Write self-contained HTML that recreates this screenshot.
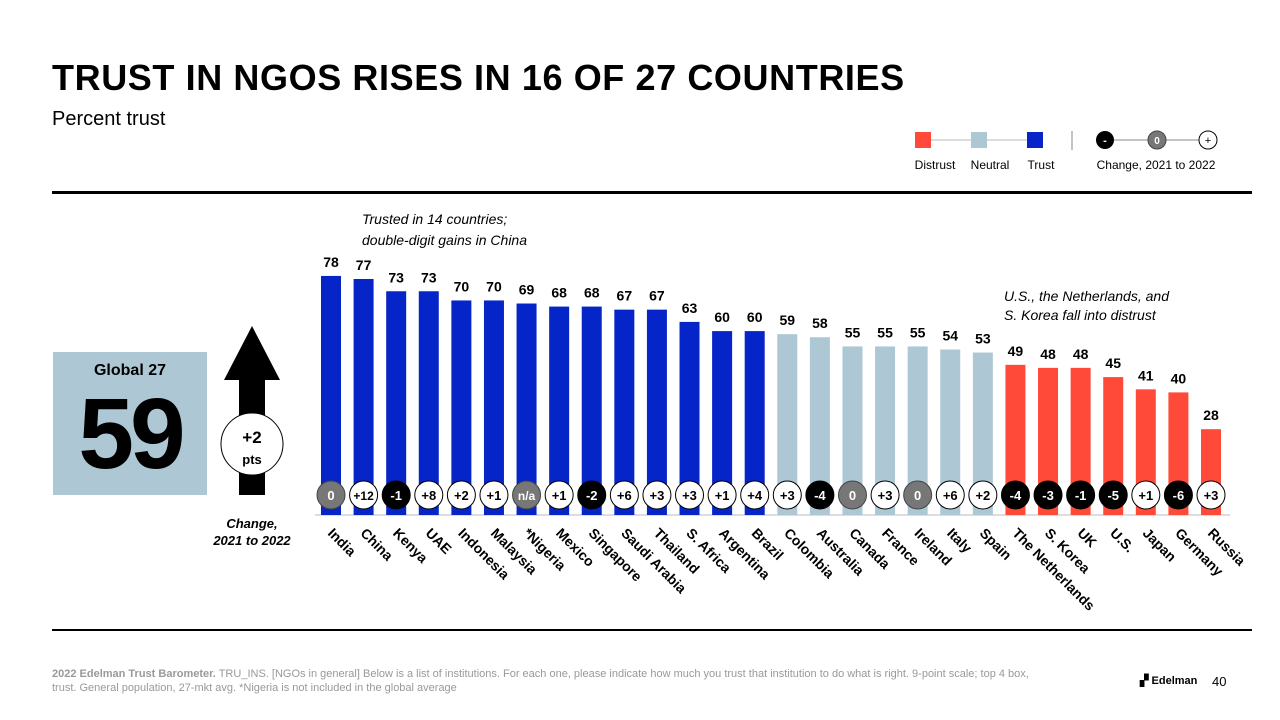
<!DOCTYPE html>
<html><head><meta charset="utf-8"><style>
body{margin:0;width:1280px;height:720px;background:#fff;font-family:"Liberation Sans",Arial,sans-serif;overflow:hidden;position:relative}
.abs{position:absolute}
</style></head><body>
<div class="abs" style="left:52px;top:57px;font-size:36px;font-weight:bold;color:#000;letter-spacing:0.6px">TRUST IN NGOS RISES IN 16 OF 27 COUNTRIES</div>
<div class="abs" style="left:52px;top:108px;font-size:20px">Percent trust</div>
<div class="abs" style="left:52px;top:191px;width:1200px;height:3px;background:#000"></div>
<div class="abs" style="left:52px;top:629px;width:1200px;height:2px;background:#000"></div>
<div class="abs" style="left:52px;top:667px;font-size:11px;color:#999;line-height:14px;width:1000px"><b>2022 Edelman Trust Barometer.</b> TRU_INS. [NGOs in general] Below is a list of institutions. For each one, please indicate how much you trust that institution to do what is right. 9-point scale; top 4 box, trust. General population, 27-mkt avg. *Nigeria is not included in the global average</div>
<div class="abs" style="left:1140px;top:674px;font-size:11px;font-weight:bold">▞ Edelman</div>
<div class="abs" style="left:1212px;top:674px;font-size:13px">40</div>
<div class="abs" style="left:53px;top:352px;width:154px;height:143px;background:#adc8d4"></div>
<div class="abs" style="left:53px;top:362px;width:154px;text-align:center;font-size:16px;font-weight:bold">Global 27</div>
<div class="abs" style="left:53px;top:377px;width:154px;text-align:center;font-size:100px;font-weight:bold;letter-spacing:-4px">59</div>
<svg class="abs" style="left:0;top:0" width="1280" height="720" id="chart">
<g>
<polygon points="252,326 280,380 265,380 265,495 239,495 239,380 224,380" fill="#000"/>
<circle cx="252" cy="444" r="31" fill="#fff" stroke="#000" stroke-width="1"/>
<text x="252" y="443" text-anchor="middle" font-size="17" font-weight="bold">+2</text>
<text x="252" y="464" text-anchor="middle" font-size="13" font-weight="bold">pts</text>
</g>
<text x="252" y="528" text-anchor="middle" font-size="13" font-weight="bold" font-style="italic">Change,</text>
<text x="252" y="545" text-anchor="middle" font-size="13" font-weight="bold" font-style="italic">2021 to 2022</text>
<text x="362" y="224" font-size="14" font-style="italic">Trusted in 14 countries;</text>
<text x="362" y="245" font-size="14" font-style="italic">double-digit gains in China</text>
<text x="1004" y="301" font-size="14" font-style="italic">U.S., the Netherlands, and</text>
<text x="1004" y="320" font-size="14" font-style="italic">S. Korea fall into distrust</text>
<g>
<line x1="922" y1="140" x2="1036" y2="140" stroke="#bbb"/>
<rect x="915" y="132" width="16" height="16" fill="#ff4a3a"/>
<rect x="971" y="132" width="16" height="16" fill="#adc8d4"/>
<rect x="1027" y="132" width="16" height="16" fill="#0625c8"/>
<text x="935" y="169" font-size="12" text-anchor="middle">Distrust</text>
<text x="990" y="169" font-size="12" text-anchor="middle">Neutral</text>
<text x="1041" y="169" font-size="12" text-anchor="middle">Trust</text>
<line x1="1072" y1="131" x2="1072" y2="150" stroke="#888"/>
<line x1="1105" y1="140" x2="1208" y2="140" stroke="#888"/>
<circle cx="1105" cy="140" r="9" fill="#000"/><text x="1105" y="144" fill="#fff" font-size="11" font-weight="bold" text-anchor="middle">-</text>
<circle cx="1157" cy="140" r="9" fill="#777" stroke="#444"/><text x="1157" y="144" fill="#fff" font-size="10" font-weight="bold" text-anchor="middle">0</text>
<circle cx="1208" cy="140" r="9" fill="#fff" stroke="#000"/><text x="1208" y="144" font-size="11" text-anchor="middle">+</text>
<text x="1156" y="169" font-size="12" text-anchor="middle">Change, 2021 to 2022</text>
</g>
<line x1="315" y1="515" x2="1230" y2="515" stroke="#bbb"/>
<g id="bars"></g>
</svg>
<script>
const countries=["India","China","Kenya","UAE","Indonesia","Malaysia","*Nigeria","Mexico","Singapore","Saudi Arabia","Thailand","S. Africa","Argentina","Brazil","Colombia","Australia","Canada","France","Ireland","Italy","Spain","The Netherlands","S. Korea","UK","U.S.","Japan","Germany","Russia"];
const trustValues=[78,77,73,73,70,70,69,68,68,67,67,63,60,60,59,58,55,55,55,54,53,49,48,48,45,41,40,28];
const changes=["0","+12","-1","+8","+2","+1","n/a","+1","-2","+6","+3","+3","+1","+4","+3","-4","0","+3","0","+6","+2","-4","-3","-1","-5","+1","-6","+3"];
const x0=331,step=(1211-331)/(countries.length-1),base=515,k=3.065;
const xs=i=>x0+i*step, ys=v=>base-v*k;
const g=document.getElementById('bars');const NS="http://www.w3.org/2000/svg";
function mk(t,a){const e=document.createElementNS(NS,t);for(const n in a)e.setAttribute(n,a[n]);return e;}
countries.forEach((c,i)=>{
 const v=trustValues[i];const col=v>=60?"#0625c8":(v>=50?"#adc8d4":"#ff4a3a");
 const r=mk('rect',{x:xs(i)-10,y:ys(v),width:20,height:v*k,fill:col});
 
 g.appendChild(r);
 const t=mk('text',{x:xs(i),y:ys(v)-9,'text-anchor':'middle','font-size':14,'font-weight':'bold'});t.textContent=v;
 
 g.appendChild(t);
 const ch=changes[i];const neg=ch[0]=='-',zero=ch=='0'||ch=='n/a';
 const ci=mk('circle',{cx:xs(i),cy:495,r:14,fill:neg?'#000':(zero?'#777':'#fff'),stroke:zero?'#444':'#000','stroke-width':1});
 
 g.appendChild(ci);
 const ct=mk('text',{x:xs(i),y:500,'text-anchor':'middle','font-size':ch.length>2?12:13,'font-weight':'bold',fill:(neg||zero)?'#fff':'#000'});ct.textContent=ch;
 
 g.appendChild(ct);
 const lx=xs(i)-4,ly=534;
 const lt=mk('text',{x:lx,y:ly,'font-size':14,'font-weight':'bold',transform:`rotate(45 ${lx} ${ly})`});lt.textContent=c;
 
 g.appendChild(lt);
});
</script>
</body></html>
